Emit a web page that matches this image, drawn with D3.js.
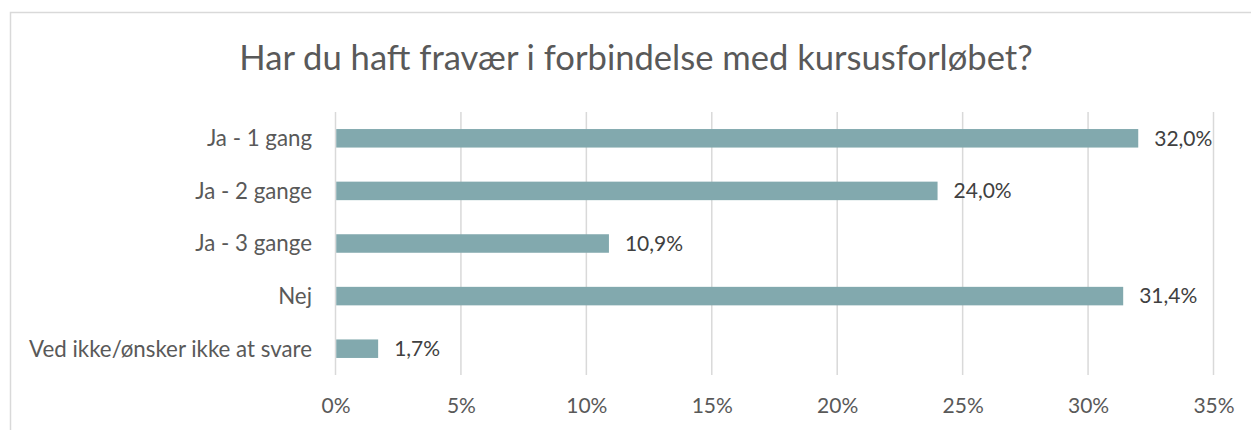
<!DOCTYPE html>
<html>
<head>
<meta charset="utf-8">
<script src="https://cdn.jsdelivr.net/npm/d3@7"></script>
<style>
  html, body { margin: 0; padding: 0; background: #fff; }
  svg { display: block; font-family: Lato, "Open Sans", sans-serif; }
</style>
</head>
<body>
<svg id="chart" width="1251" height="430"></svg>
<script>
// Survey answers: absence during the course
const categories = ["Ja - 1 gang", "Ja - 2 gange", "Ja - 3 gange", "Nej", "Ved ikke/ønsker ikke at svare"];
const shares = [0.320, 0.240, 0.109, 0.314, 0.017];
const tickValues = [0, 0.05, 0.10, 0.15, 0.20, 0.25, 0.30, 0.35];
const title = "Har du haft fravær i forbindelse med kursusforløbet?";

const svg = d3.select("#chart");

// chart frame
svg.append("rect")
  .attr("x", 10.5).attr("y", 12.5)
  .attr("width", 1260).attr("height", 440)
  .attr("fill", "none").attr("stroke", "#d9d9d9").attr("stroke-width", 1.5);

const x = d3.scaleLinear().domain([0, 0.35]).range([335.5, 1213.5]);
const y = d3.scaleBand().domain(categories).range([112, 375])
  .paddingInner(0.648).paddingOuter(0.324);

// vertical gridlines
svg.append("g").selectAll("line").data(tickValues).join("line")
  .attr("x1", d => x(d)).attr("x2", d => x(d))
  .attr("y1", 112).attr("y2", 375)
  .attr("stroke", "#d9d9d9").attr("stroke-width", 1.5);

// bars
svg.append("g").selectAll("rect").data(shares).join("rect")
  .attr("x", x(0) + 0.75)
  .attr("y", (d, i) => y(categories[i]))
  .attr("width", d => x(d) - x(0) - 0.75)
  .attr("height", y.bandwidth())
  .attr("fill", "#82a9ae");

const pct = d => d3.format(".1f")(d * 100).replace(".", ",") + "%";

// value labels
svg.append("g").selectAll("text").data(shares).join("text")
  .attr("x", d => x(d) + 16)
  .attr("y", (d, i) => y(categories[i]) + y.bandwidth() / 2)
  .attr("dy", "0.35em")
  .attr("font-size", 21)
  .attr("fill", "#404040")
  .text(pct);

// category axis labels
svg.append("g").selectAll("text").data(categories).join("text")
  .attr("x", 312)
  .attr("y", d => y(d) + y.bandwidth() / 2)
  .attr("dy", "0.35em")
  .attr("text-anchor", "end")
  .attr("font-size", 22.3)
  .attr("fill", "#595959")
  .text(d => d);

// value axis labels
const xAxis = d3.axisBottom(x).tickValues(tickValues).tickSize(0).tickPadding(0)
  .tickFormat(d => Math.round(d * 100) + "%");
const gx = svg.append("g").attr("transform", "translate(0,398)").call(xAxis);
gx.select(".domain").remove();
gx.selectAll("text")
  .attr("font-family", "Lato, 'Open Sans', sans-serif")
  .attr("font-size", 21)
  .attr("fill", "#595959");

// title
svg.append("text")
  .attr("x", 636).attr("y", 70)
  .attr("text-anchor", "middle")
  .attr("font-size", 34.6)
  .attr("fill", "#595959")
  .text(title);
</script>
</body>
</html>
